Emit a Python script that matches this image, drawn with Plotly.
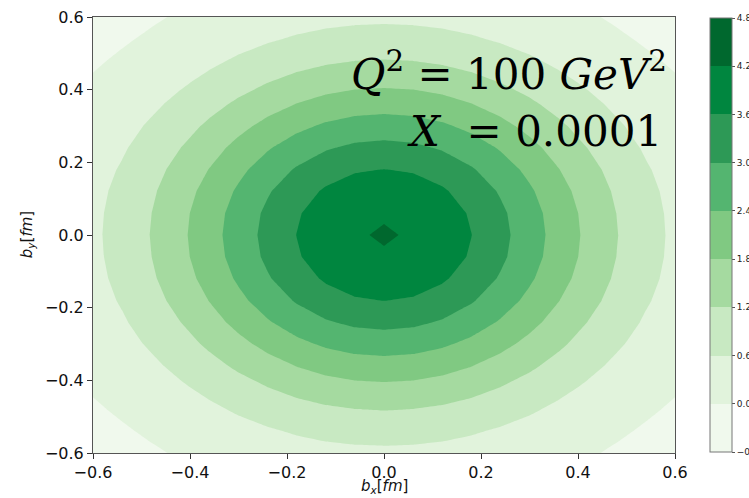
import plotly.graph_objects as go

# grid coordinates (fm)
bx = [-0.6, -0.54, -0.48, -0.42, -0.36, -0.3, -0.24, -0.18, -0.12, -0.06, 0.0,
      0.06, 0.12, 0.18, 0.24, 0.3, 0.36, 0.42, 0.48, 0.54, 0.6]
by = list(bx)

# one quadrant of the (symmetric) distribution
# rows: |b_y| index 0..10, cols: |b_x| index 0..10
quad = [
    [4.230, 4.170, 3.951, 3.608, 3.172, 2.681, 2.171, 1.675, 1.220, 0.823, 0.492],
    [4.170, 4.096, 3.880, 3.542, 3.114, 2.631, 2.129, 1.641, 1.193, 0.803, 0.477],
    [3.951, 3.880, 3.674, 3.353, 2.945, 2.485, 2.007, 1.543, 1.116, 0.744, 0.440],
    [3.608, 3.542, 3.353, 3.057, 2.681, 2.257, 1.817, 1.389, 0.996, 0.653, 0.380],
    [3.172, 3.114, 2.945, 2.681, 2.346, 1.968, 1.575, 1.193, 0.843, 0.537, 0.300],
    [2.681, 2.631, 2.485, 2.257, 1.968, 1.641, 1.302, 0.973, 0.671, 0.415, 0.210],
    [2.171, 2.129, 2.007, 1.817, 1.575, 1.302, 1.019, 0.744, 0.492, 0.290, 0.120],
    [1.675, 1.641, 1.543, 1.389, 1.193, 0.973, 0.744, 0.522, 0.335, 0.170, 0.040],
    [1.220, 1.193, 1.116, 0.996, 0.843, 0.671, 0.492, 0.335, 0.185, 0.055, -0.050],
    [0.823, 0.803, 0.744, 0.653, 0.537, 0.415, 0.290, 0.170, 0.055, -0.045, -0.130],
    [0.492, 0.477, 0.440, 0.380, 0.300, 0.210, 0.120, 0.040, -0.050, -0.130, -0.190],
]

levels = [-0.6, 0.0, 0.6, 1.2, 1.8, 2.4, 3.0, 3.6, 4.2, 4.8]
level_labels = ["\u22120.6", "0.0", "0.6", "1.2", "1.8", "2.4", "3.0", "3.6", "4.2", "4.8"]
band_colors = ["rgb(240,249,237)", "rgb(225,243,220)", "rgb(200,233,194)",
               "rgb(165,218,160)", "rgb(128,201,130)", "rgb(84,181,112)",
               "rgb(45,153,86)", "rgb(0,134,63)", "rgb(0,104,46)"]

x_ticks = [-0.6, -0.4, -0.2, 0.0, 0.2, 0.4, 0.6]
y_ticks = [-0.6, -0.4, -0.2, 0.0, 0.2, 0.4, 0.6]

c = len(quad) - 1
z = [[quad[abs(i - c)][abs(j - c)] for j in range(len(bx))] for i in range(len(by))]

n = len(band_colors)
# contour fill colour map: band k is sampled at (k+1)/(n+1)
cs_fill = [[0.0, band_colors[0]]]
for k, col in enumerate(band_colors):
    cs_fill.append([(k + 1) / (n + 1), col])
cs_fill.append([1.0, band_colors[-1]])

# stepwise scale for the colour bar (levels[0] .. levels[-1])
cs_bar = []
for k, col in enumerate(band_colors):
    cs_bar.append([k / n, col])
    cs_bar.append([(k + 1) / n, col])

fig = go.Figure()
fig.add_trace(go.Contour(
    x=bx, y=by, z=z,
    autocontour=False,
    contours=dict(start=levels[0], end=levels[-1], size=levels[1] - levels[0],
                  coloring="fill", showlines=False),
    line=dict(width=0, smoothing=0),
    colorscale=cs_fill, showscale=False,
    hoverinfo="skip",
))

# colour bar carrier (no visible marks)
fig.add_trace(go.Scatter(
    x=[None], y=[None], mode="markers", showlegend=False, hoverinfo="skip",
    marker=dict(
        color=[levels[0]], cmin=levels[0], cmax=levels[-1], colorscale=cs_bar,
        showscale=True,
        colorbar=dict(
            x=1.0601, xanchor="left", xpad=0, ypad=0,
            y=0.5, yanchor="middle", len=0.995, lenmode="fraction",
            thickness=22, outlinewidth=1, outlinecolor="#777777",
            tickmode="array", tickvals=levels, ticktext=level_labels,
            ticks="outside", ticklen=3, tickcolor="#555555",
            tickfont=dict(family="DejaVu Sans", size=9, color="#222222"),
        ),
    ),
))

axis_common = dict(
    range=[-0.6, 0.6], showgrid=False, zeroline=False,
    showline=True, linecolor="#555555", linewidth=1, mirror=True,
    ticks="outside", ticklen=5, tickwidth=1, tickcolor="#333333",
    tickfont=dict(family="DejaVu Sans", size=16, color="#111111"),
    tickformat=".1f", automargin=False,
)

title_font = dict(family="DejaVu Sans", size=15, color="#111111")

fig.update_layout(
    width=749, height=498,
    margin=dict(l=93, r=74, t=17, b=45, autoexpand=False),
    paper_bgcolor="white", plot_bgcolor="white",
    showlegend=False,
    xaxis=dict(axis_common, tickvals=x_ticks),
    yaxis=dict(axis_common, tickvals=y_ticks),
    annotations=[
        dict(xref="paper", yref="paper", x=0.5, y=-0.1025,
             xanchor="center", yanchor="bottom", showarrow=False,
             text="<i>b</i><sub><i>x</i></sub>[<i>fm</i>]", font=title_font),
        dict(xref="paper", yref="paper", x=-0.113, y=0.5,
             xanchor="center", yanchor="middle", showarrow=False, textangle=-90,
             text="<i>b</i><sub><i>y</i></sub>[<i>fm</i>]", font=title_font),
        dict(xref="paper", yref="paper", x=0.990, y=0.876,
             xanchor="right", yanchor="middle", showarrow=False,
             text="<i>Q</i><sup>2</sup> = 100 <i>GeV</i><sup>2</sup>",
             font=dict(family="DejaVu Serif", size=42, color="black")),
        dict(xref="paper", yref="paper", x=0.981, y=0.738,
             xanchor="right", yanchor="middle", showarrow=False,
             text="<i>X</i>\u00a0 = 0.0001",
             font=dict(family="DejaVu Serif", size=42, color="black")),
    ],
)

fig.write_html("out.html")
